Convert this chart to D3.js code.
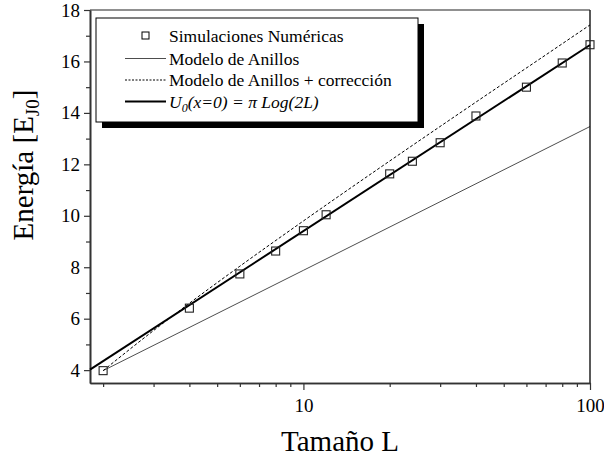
<!DOCTYPE html>
<html>
<head>
<meta charset="utf-8">
<script src="https://cdn.jsdelivr.net/npm/d3@7/dist/d3.min.js"></script>
<style>
  html, body { margin: 0; padding: 0; background: #fff; }
  svg { display: block; font-family: "Liberation Serif", "Times New Roman", serif; }
</style>
</head>
<body>
<svg id="chart" width="604" height="461"></svg>
<script>
// ---- data ----
const simL = [2, 4, 6, 8, 10, 12, 20, 24, 30, 40, 60, 80, 100];
const simE = [3.98, 6.41, 7.74, 8.63, 9.42, 10.04, 11.63, 12.12, 12.84, 13.88, 15.0, 15.94, 16.65];

const ringL = [2, 10, 100];
const ringE = [3.98, 7.88, 13.47];

const corrL = [2, 3, 4, 6, 10, 20, 40, 70, 100];
const corrE = [3.98, 5.54, 6.60, 8.04, 9.80, 12.13, 14.42, 16.25, 17.42];

const u0L = [1.8, 100];
const u0E = [4.02, 16.64];

const xMajor = [10, 100];
const xMinor = [2, 3, 4, 5, 6, 7, 8, 9, 20, 30, 40, 50, 60, 70, 80, 90];
const yMajor = [4, 6, 8, 10, 12, 14, 16, 18];
const yMinor = [5, 7, 9, 11, 13, 15, 17];

const legendLabels = ["Simulaciones Numéricas", "Modelo de Anillos", "Modelo de Anillos + corrección"];

(function () {
// ---- layout ----
const svg = d3.select("#chart");
const pL = 90, pR = 590, pT = 10, pB = 383;

const x = d3.scaleLog().domain([1.8, 100]).range([pL, pR]);
const y = d3.scaleLinear().domain([3.5, 18]).range([pB, pT]);

svg.append("rect").attr("width", 604).attr("height", 461).attr("fill", "#fff");

// frame (top & right)
svg.append("line").attr("x1", pL).attr("x2", pR).attr("y1", pT).attr("y2", pT)
  .attr("stroke", "#222").attr("stroke-width", 1.2);
svg.append("line").attr("x1", pR).attr("x2", pR).attr("y1", pT).attr("y2", pB)
  .attr("stroke", "#222").attr("stroke-width", 1.5);

// axes
function styleAxis(g) {
  g.select(".domain").attr("stroke", "#333").attr("stroke-width", 1.6);
  g.selectAll(".tick line").attr("stroke", "#333").attr("stroke-width", 1.2);
  g.selectAll(".tick text").attr("fill", "#000").attr("font-family", "Liberation Serif, serif").attr("font-size", 19);
}

const xAxisMinor = svg.append("g").attr("transform", `translate(0,${pB})`)
  .call(d3.axisBottom(x).tickValues(xMinor).tickSize(4).tickFormat("").tickSizeOuter(0));
styleAxis(xAxisMinor);
const xAxisMajor = svg.append("g").attr("transform", `translate(0,${pB})`)
  .call(d3.axisBottom(x).tickValues(xMajor).tickSize(7).tickPadding(9).tickFormat(d3.format("d")).tickSizeOuter(0));
styleAxis(xAxisMajor);

const yAxisMinor = svg.append("g").attr("transform", `translate(${pL},0)`)
  .call(d3.axisLeft(y).tickValues(yMinor).tickSize(4).tickFormat("").tickSizeOuter(0));
styleAxis(yAxisMinor);
const yAxisMajor = svg.append("g").attr("transform", `translate(${pL},0)`)
  .call(d3.axisLeft(y).tickValues(yMajor).tickSize(6).tickPadding(4).tickFormat(d3.format("d")).tickSizeOuter(0));
styleAxis(yAxisMajor);

// lines
const line = d3.line().x(d => x(d[0])).y(d => y(d[1]));
const curve = d3.line().x(d => x(d[0])).y(d => y(d[1])).curve(d3.curveMonotoneX);

svg.append("path").datum(d3.zip(ringL, ringE)).attr("d", line)
  .attr("fill", "none").attr("stroke", "#000").attr("stroke-width", 0.7);
svg.append("path").datum(d3.zip(corrL, corrE)).attr("d", curve)
  .attr("fill", "none").attr("stroke", "#000").attr("stroke-width", 1).attr("stroke-dasharray", "3,2");
svg.append("path").datum(d3.zip(u0L, u0E)).attr("d", line)
  .attr("fill", "none").attr("stroke", "#000").attr("stroke-width", 2);

// squares
const sq = 8;
svg.append("g").selectAll("rect").data(d3.zip(simL, simE)).join("rect")
  .attr("x", d => x(d[0]) - sq / 2).attr("y", d => y(d[1]) - sq / 2)
  .attr("width", sq).attr("height", sq)
  .attr("fill", "none").attr("stroke", "#222").attr("stroke-width", 1.1);

// legend
const lg = svg.append("g");
const bx = 96, by = 18, bw = 322, bh = 104;
lg.append("rect").attr("x", bx + 6).attr("y", by + 6).attr("width", bw).attr("height", bh).attr("fill", "#000");
lg.append("rect").attr("x", bx).attr("y", by).attr("width", bw).attr("height", bh)
  .attr("fill", "#fff").attr("stroke", "#000").attr("stroke-width", 1);

const rowY = [36, 58.5, 80, 101.5];
const sx1 = 125, sx2 = 166, tx = 169;
lg.append("rect").attr("x", 145.5 - 3.5).attr("y", rowY[0] - 4).attr("width", 7).attr("height", 7)
  .attr("fill", "none").attr("stroke", "#000").attr("stroke-width", 1);
lg.append("line").attr("x1", sx1).attr("x2", sx2).attr("y1", rowY[1]).attr("y2", rowY[1])
  .attr("stroke", "#000").attr("stroke-width", 0.7);
lg.append("line").attr("x1", sx1).attr("x2", sx2).attr("y1", rowY[2]).attr("y2", rowY[2])
  .attr("stroke", "#000").attr("stroke-width", 1).attr("stroke-dasharray", "2,1.5");
lg.append("line").attr("x1", sx1).attr("x2", sx2).attr("y1", rowY[3]).attr("y2", rowY[3])
  .attr("stroke", "#000").attr("stroke-width", 2);

legendLabels.forEach((t, i) => {
  lg.append("text").attr("x", tx).attr("y", rowY[i] + 6).attr("font-size", 17.5).attr("fill", "#000").text(t);
});
const t4 = lg.append("text").attr("x", tx).attr("y", rowY[3] + 6).attr("font-size", 17.5)
  .attr("font-style", "italic").attr("fill", "#000");
t4.append("tspan").text("U");
t4.append("tspan").attr("font-size", 12).attr("dy", 4).text("0");
t4.append("tspan").attr("dy", -4).text("(x=0) = π Log(2L)");

// axis titles
svg.append("text").attr("x", 340).attr("y", 451).attr("text-anchor", "middle")
  .attr("font-size", 29).attr("fill", "#000").text("Tamaño L");

const yt = svg.append("text").attr("transform", "translate(33,165) rotate(-90)")
  .attr("text-anchor", "middle").attr("font-size", 29).attr("fill", "#000");
yt.append("tspan").text("Energía [E");
yt.append("tspan").attr("font-size", 19).attr("dy", 6).text("J0");
yt.append("tspan").attr("dy", -6).text("]");
})();
</script>
</body>
</html>
